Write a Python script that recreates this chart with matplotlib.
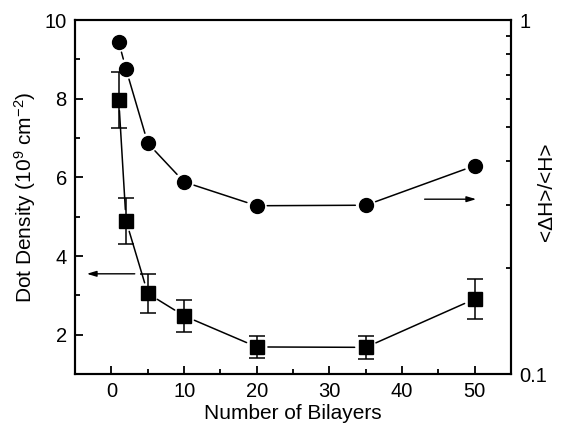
import matplotlib
matplotlib.use('Agg')
import matplotlib.pyplot as plt
from matplotlib.ticker import MultipleLocator, FixedLocator, FixedFormatter, NullFormatter

plt.rcParams['font.family'] = ['Liberation Sans', 'DejaVu Sans']
plt.rcParams['font.size'] = 14
plt.rcParams['mathtext.default'] = 'regular'

# Dot density (left axis) with error bars
bilayers = [1, 2, 5, 10, 20, 35, 50]
density = [7.98, 4.9, 3.05, 2.48, 1.69, 1.68, 2.91]
density_err = [0.71, 0.58, 0.5, 0.4, 0.29, 0.3, 0.5]

# Size fluctuation <dH>/<H> (right axis, log)
size_ratio = [0.867, 0.727, 0.449, 0.349, 0.299, 0.300, 0.388]

fig = plt.figure(figsize=(5.61, 4.29), dpi=100)
ax = fig.add_axes([0.134, 0.128, 0.777, 0.825])
ax2 = ax.twinx()

lw = 1.1


def gapped_line(axis, xs, ys, gap):
    # connect neighbouring points, leaving a small gap around each marker
    for i in range(len(xs) - 1):
        axis.annotate('', xy=(xs[i + 1], ys[i + 1]), xytext=(xs[i], ys[i]),
                      arrowprops=dict(arrowstyle='-', lw=lw, color='black',
                                      shrinkA=gap, shrinkB=gap))


gapped_line(ax, bilayers, density, 8)
ax.errorbar(bilayers, density, yerr=density_err, fmt='s', color='black',
            ms=10.5, elinewidth=lw, capsize=5.8, capthick=lw, zorder=3)

gapped_line(ax2, bilayers, size_ratio, 7.5)
ax2.plot(bilayers, size_ratio, 'o', color='black', ms=10, zorder=3)

# direction arrows pointing to the relevant axis
ax.annotate('', xy=(-3.4, 3.55), xytext=(3.2, 3.55),
            arrowprops=dict(arrowstyle='-|>,head_length=0.4,head_width=0.12',
                            lw=1.0, color='black', shrinkA=0, shrinkB=0))
ax2.annotate('', xy=(50.2, 0.312), xytext=(43.1, 0.312),
             arrowprops=dict(arrowstyle='-|>,head_length=0.4,head_width=0.12',
                             lw=1.0, color='black', shrinkA=0, shrinkB=0))

ax.set_xlim(-5, 55)
ax.set_ylim(1, 10)
ax2.set_yscale('log')
ax2.set_ylim(0.1, 1)

ax.xaxis.set_major_locator(MultipleLocator(10))
ax.xaxis.set_minor_locator(MultipleLocator(5))
ax.yaxis.set_major_locator(MultipleLocator(2))
ax.yaxis.set_minor_locator(MultipleLocator(1))
ax2.yaxis.set_major_locator(FixedLocator([0.1, 1]))
ax2.yaxis.set_major_formatter(FixedFormatter(['0.1', '1']))
ax2.yaxis.set_minor_locator(FixedLocator([0.2, 0.3, 0.4, 0.5, 0.6, 0.7, 0.8, 0.9]))
ax2.yaxis.set_minor_formatter(NullFormatter())

for a in (ax, ax2):
    for s in a.spines.values():
        s.set_linewidth(1.5)
    a.tick_params(which='major', direction='in', length=6, width=1.3, labelsize=14.5, pad=6)
    a.tick_params(which='minor', direction='in', length=3.5, width=1.3)
ax.tick_params(which='both', top=False, right=False)
ax2.tick_params(which='both', left=False)

ax.set_xlabel('Number of Bilayers', fontsize=15)
ax.set_ylabel('Dot Density (10$^{9}$ cm$^{-2}$)', fontsize=15)
ax.xaxis.set_label_coords(0.5, -0.085)
ax.yaxis.set_label_coords(-0.085, 0.5)
ax2.set_ylabel('<\u0394H>/<H>', fontsize=15)
ax2.yaxis.set_label_coords(1.06, 0.514)

fig.savefig('out.png', dpi=100)
